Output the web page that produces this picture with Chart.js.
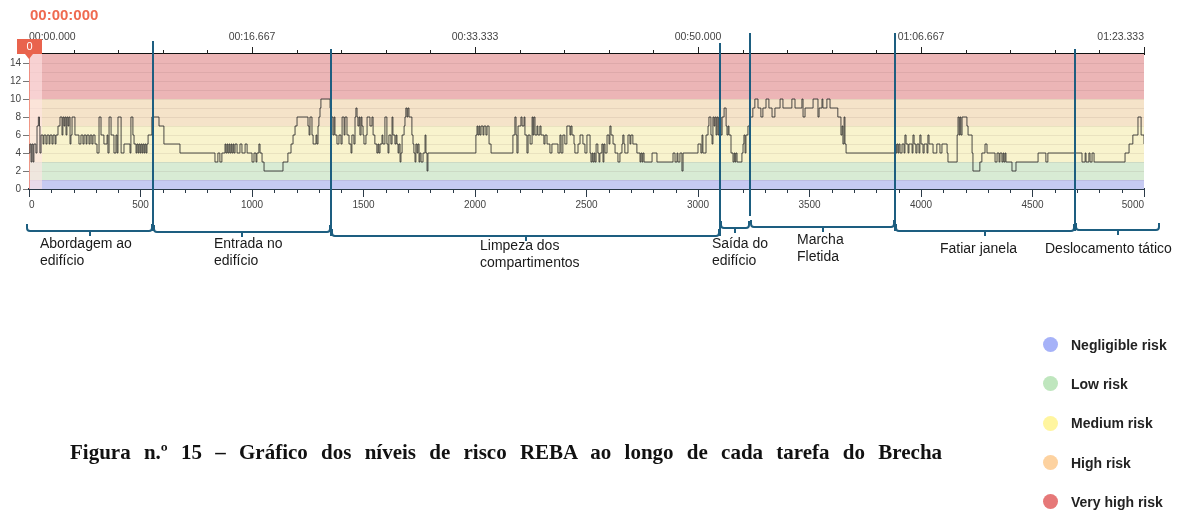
<!DOCTYPE html>
<html>
<head>
<meta charset="utf-8">
<script src="https://cdn.jsdelivr.net/npm/chart.js@4.4.1/dist/chart.umd.min.js"></script>
<style>
  html, body { margin: 0; padding: 0; background: #fff; }
  #wrap { position: relative; width: 1180px; height: 515px; font-family: 'Liberation Sans', Arial, sans-serif; }
  #chart { position: absolute; left: 0; top: 0; }
  .clock { position: absolute; left: 30px; top: 6px; color: #ef6a50; font-weight: bold; font-size: 15px; }
  .task { position: absolute; font-size: 14px; line-height: 17px; color: #1a1a1a; white-space: nowrap; }
  .legend { position: absolute; left: 1043px; top: 325px; }
  .legend div { height: 39.3px; display: flex; align-items: center; font-weight: bold; font-size: 14px; color: #222; }
  .legend span { width: 15px; height: 15px; border-radius: 50%; margin-right: 13px; }
  .caption { position: absolute; left: 70px; top: 440px; font-family: 'Liberation Serif', 'Times New Roman', serif; font-weight: bold; font-size: 21px; word-spacing: 8px; color: #111; white-space: nowrap; }
</style>
</head>
<body>
<div id="wrap">
  <canvas id="chart" width="1180" height="515"></canvas>
  <div class="clock">00:00:000</div>
  <div id="tasks"></div>
  <div class="legend" id="legend"></div>
  <div class="caption">Figura n.º 15 – Gráfico dos níveis de risco REBA ao longo de cada tarefa do Brecha</div>
</div>
<script>
// video frames (60 fps) and REBA score at each step change
const fps = 60;
const frames = [
  // Abordagem ao edificio
  0, 4, 9, 13, 18, 22, 31, 36, 42, 47,
  49, 54, 63, 67, 76, 81, 90, 94, 103, 108,
  117, 121, 130, 139, 148, 152, 157, 161, 166, 170,
  175, 179, 184, 188, 193, 206, 224, 233, 242, 247,
  256, 260, 269, 274, 282, 287, 296, 305, 314, 323,
  336, 350, 354, 359, 368, 381, 390, 395, 399, 413,
  426, 453, 457, 466, 471, 480, 484, 489, 493, 498,
  502, 507, 511, 516, 520, 525, 529, 534, 551,
  // Entrada no edificio
  583, 605, 677, 834, 847, 856, 865, 879, 883, 888,
  892, 897, 901, 906, 910, 915, 919, 924, 933, 946,
  955, 969, 978, 1000, 1009, 1018, 1022, 1031, 1036, 1045,
  1054, 1139, 1161, 1175, 1184, 1193, 1202, 1251, 1256, 1260,
  1269, 1274, 1287, 1291, 1296, 1300, 1305, 1309, 1350,
  // Limpeza dos compartimentos
  1354, 1363, 1368, 1372, 1381, 1390, 1399, 1404, 1413, 1417,
  1426, 1435, 1444, 1448, 1457, 1462, 1466, 1471, 1475, 1480,
  1484, 1489, 1493, 1498, 1502, 1511, 1516, 1529, 1538, 1543,
  1551, 1560, 1565, 1569, 1574, 1583, 1587, 1596, 1605, 1610,
  1614, 1623, 1628, 1632, 1641, 1646, 1650, 1655, 1659, 1664,
  1668, 1673, 1682, 1686, 1690, 1695, 1699, 1704, 1717, 1722,
  1726, 1731, 1735, 1740, 1744, 1749, 1753, 1758, 1767, 1776,
  1780, 1785, 1789, 2004, 2009, 2013, 2018, 2022, 2027, 2036,
  2040, 2049, 2054, 2063, 2072, 2170, 2179, 2184, 2188, 2193,
  2206, 2211, 2220, 2224, 2233, 2238, 2247, 2256, 2260, 2264,
  2269, 2278, 2282, 2291, 2296, 2309, 2314, 2323, 2336, 2345,
  2372, 2381, 2386, 2394, 2403, 2412, 2426, 2430, 2435, 2444,
  2448, 2462, 2471, 2484, 2493, 2502, 2516, 2520, 2525, 2529,
  2534, 2538, 2543, 2551, 2556, 2560, 2569, 2574, 2578, 2583,
  2592, 2601, 2605, 2610, 2619, 2628, 2641, 2650, 2659, 2663,
  2668, 2672, 2686, 2695, 2699, 2708, 2726, 2740, 2744, 2749,
  2753, 2758, 2794, 2816, 2888, 2897, 2906, 2910, 2919, 2928,
  2933, 3000, 3013, 3018, 3022, 3036, 3045, 3049, 3058, 3063,
  3067, 3072, 3076, 3081, 3085, 3090, 3094,
  // Saida do edificio
  3103, 3108, 3117, 3126, 3130, 3135, 3139, 3148, 3157, 3162,
  3166, 3170, 3175, 3197, 3202, 3206, 3211, 3215, 3224, 3233,
  // Marcha fletida
  3246, 3255, 3269, 3282, 3291, 3305, 3318, 3332, 3345, 3368,
  3381, 3421, 3435, 3466, 3471, 3480, 3516, 3538, 3543, 3556,
  3560, 3578, 3592, 3627, 3641, 3646, 3650, 3655, 3659, 3664,
  // Fatiar janela
  3883, 3888, 3892, 3897, 3901, 3906, 3915, 3924, 3928, 3933,
  3942, 3946, 3960, 3964, 3969, 3977, 3982, 3991, 3995, 4000,
  4009, 4014, 4027, 4031, 4036, 4054, 4071, 4085, 4094, 4117,
  4121, 4162, 4166, 4171, 4175, 4179, 4184, 4206, 4211, 4229,
  4233, 4264, 4273, 4287, 4296, 4332, 4341, 4350, 4354, 4363,
  4368, 4372, 4377, 4381, 4408, 4426, 4525, 4560, 4569,
  // Deslocamento tatico
  4722, 4736, 4740, 4753, 4758, 4767, 4776, 4915, 4933, 4950,
  4973, 4987, 5000
];
const scores = [
  4, 5, 3, 5, 3, 5, 4, 7, 8, 7,
  4, 6, 5, 6, 5, 6, 5, 6, 5, 6,
  5, 6, 7, 8, 6, 8, 7, 8, 6, 8,
  7, 8, 5, 6, 8, 6, 5, 6, 5, 6,
  5, 6, 5, 6, 5, 6, 5, 4, 8, 6,
  5, 6, 4, 8, 6, 4, 6, 4, 8, 4,
  5, 4, 8, 6, 5, 4, 5, 4, 5, 4,
  5, 4, 5, 4, 5, 4, 5, 6, 8,

  7, 5, 4, 3, 4, 3, 4, 5, 4, 5,
  4, 5, 4, 5, 4, 5, 4, 5, 4, 5,
  4, 5, 4, 3, 4, 3, 4, 5, 4, 3,
  2, 3, 4, 5, 6, 7, 8, 7, 6, 8,
  6, 5, 6, 5, 7, 8, 9, 10, 9,

  8, 6, 8, 6, 5, 6, 5, 8, 6, 8,
  6, 5, 4, 6, 5, 8, 9, 8, 7, 8,
  6, 8, 7, 6, 5, 6, 8, 7, 8, 6,
  5, 4, 5, 4, 5, 6, 5, 8, 5, 4,
  6, 5, 8, 6, 5, 6, 5, 4, 5, 3,
  4, 6, 7, 8, 9, 8, 9, 8, 6, 5,
  4, 3, 5, 4, 5, 3, 4, 3, 4, 6,
  4, 2, 4, 6, 7, 6, 7, 6, 7, 6,
  7, 6, 7, 5, 4, 6, 8, 6, 4, 7,
  8, 7, 8, 6, 4, 6, 5, 8, 6, 8,
  6, 7, 6, 7, 6, 5, 6, 5, 4, 5,
  4, 6, 4, 6, 5, 7, 6, 7, 6, 5,
  4, 5, 6, 5, 4, 6, 4, 3, 4, 3,
  4, 3, 5, 4, 3, 4, 5, 3, 5, 4,
  6, 5, 7, 6, 5, 4, 3, 4, 5, 6,
  5, 4, 6, 5, 6, 5, 4, 3, 4, 3,
  4, 3, 4, 3, 4, 3, 4, 3, 4, 2,
  4, 5, 4, 6, 4, 6, 7, 8, 6, 5,
  8, 7, 8, 6, 8, 6, 8,

  6, 8, 9, 7, 6, 7, 6, 4, 3, 4,
  3, 4, 3, 4, 5, 6, 4, 6, 7, 8,

  9, 10, 9, 8, 9, 10, 9, 8, 9, 10,
  9, 10, 9, 10, 8, 9, 10, 8, 9, 10,
  9, 10, 9, 8, 6, 7, 5, 8, 5, 4,

  5, 4, 5, 4, 5, 4, 5, 4, 6, 5,
  4, 5, 4, 6, 5, 4, 5, 4, 6, 5,
  4, 5, 4, 6, 5, 4, 5, 4, 5, 4,
  3, 6, 8, 6, 8, 6, 8, 7, 6, 4,
  2, 3, 4, 5, 4, 3, 4, 3, 4, 3,
  4, 3, 4, 3, 2, 3, 4, 3, 4,

  3, 4, 3, 4, 3, 4, 3, 4, 5, 6,
  8, 6, 5
];

// risk bands on the REBA scale
const bandLimits = [0, 1, 3, 7, 10, 15];
const bandNames = ['Negligible risk', 'Low risk', 'Medium risk', 'High risk', 'Very high risk'];
const bandFill = ['#c6caf2', '#d8ebd4', '#f8f3cd', '#f5e3c9', '#ecb5b6'];
const bandDot = ['#a6b2f8', '#bfe6be', '#fff59f', '#fdd2a0', '#e67878'];

// tasks: start/end frame of each bracket
const taskNames = ['Abordagem ao\nedifício', 'Entrada no\nedifício', 'Limpeza dos\ncompartimentos',
  'Saída do\nedifício', 'Marcha\nFletida', 'Fatiar janela', 'Deslocamento tático'];
const taskBounds = [-13, 556, 1354, 3099, 3233, 3883, 4691, 5072];

// drawing styles for the task annotations (pixels)
const bracketY = [231, 232, 236, 228, 227, 231, 230];
const lineTop = [41, 49, 43, 33, 33, 49];
const lineBottom = [231, 236, 236, 216, 231, 231];
const labelLeft = [40, 214, 480, 712, 797, 940, 1045];
const labelTop = [235, 235, 237, 235, 231, 240, 240];
const annotColor = '#1d5e80';
const cursorFrame = 0;

function fmtTime(frame) {
  const ms = Math.round(frame * 1000 / fps);
  const mm = Math.floor(ms / 60000);
  const ss = Math.floor(ms / 1000) % 60;
  const mmm = ms % 1000;
  return String(mm).padStart(2, '0') + ':' + String(ss).padStart(2, '0') + '.' + String(mmm).padStart(3, '0');
}

const bandsPlugin = {
  id: 'bands',
  beforeDatasetsDraw(chart) {
    const { ctx, chartArea: a } = chart;
    const x = chart.scales.x, y = chart.scales.y;
    ctx.save();
    for (let i = 0; i < bandFill.length; i++) {
      const top = y.getPixelForValue(bandLimits[i + 1]);
      const bot = y.getPixelForValue(bandLimits[i]);
      ctx.fillStyle = bandFill[i];
      ctx.fillRect(a.left, top, a.right - a.left, bot - top);
    }
    // one faint line per score unit
    ctx.strokeStyle = 'rgba(90,60,60,0.09)';
    ctx.lineWidth = 1;
    for (let v = 1; v < 15; v++) {
      const py = Math.round(y.getPixelForValue(v)) + 0.5;
      ctx.beginPath(); ctx.moveTo(a.left, py); ctx.lineTo(a.right, py); ctx.stroke();
    }
    // playback cursor highlight
    const cx = x.getPixelForValue(cursorFrame);
    ctx.fillStyle = 'rgba(255,228,228,0.6)';
    ctx.fillRect(cx, a.top, 13, a.bottom - a.top);
    ctx.strokeStyle = 'rgba(233,99,77,0.6)';
    ctx.beginPath(); ctx.moveTo(cx + 0.5, a.top); ctx.lineTo(cx + 0.5, a.bottom); ctx.stroke();
    ctx.restore();
  }
};

const overlayPlugin = {
  id: 'overlay',
  afterDraw(chart) {
    const { ctx } = chart;
    const x = chart.scales.x, xt = chart.scales.xTop;
    ctx.save();
    // minor ticks
    ctx.lineWidth = 1;
    ctx.strokeStyle = '#2b3a48';
    for (let f = 100; f < 5000; f += 100) {
      if (f % 500 === 0) continue;
      const px = Math.round(x.getPixelForValue(f)) + 0.5;
      ctx.beginPath(); ctx.moveTo(px, x.top); ctx.lineTo(px, x.top + 4); ctx.stroke();
    }
    ctx.strokeStyle = '#222';
    for (let f = 200; f < 5000; f += 200) {
      if (f % 1000 === 0) continue;
      const px = Math.round(xt.getPixelForValue(f)) + 0.5;
      ctx.beginPath(); ctx.moveTo(px, xt.bottom); ctx.lineTo(px, xt.bottom - 4); ctx.stroke();
    }

    // task separators
    ctx.strokeStyle = annotColor;
    ctx.lineWidth = 2;
    for (let i = 1; i < taskBounds.length - 1; i++) {
      const px = Math.round(x.getPixelForValue(taskBounds[i]));
      ctx.beginPath(); ctx.moveTo(px, lineTop[i - 1]); ctx.lineTo(px, lineBottom[i - 1]); ctx.stroke();
    }
    // brackets
    for (let i = 0; i < taskNames.length; i++) {
      const l = Math.round(x.getPixelForValue(taskBounds[i])) + 1;
      const r = Math.round(x.getPixelForValue(taskBounds[i + 1])) - 1;
      const by = bracketY[i];
      ctx.beginPath();
      ctx.moveTo(l, by - 7);
      ctx.arcTo(l, by, l + 3, by, 3);
      ctx.lineTo(r - 3, by);
      ctx.arcTo(r, by, r, by - 7, 3);
      ctx.lineTo(r, by - 7);
      ctx.stroke();
      const mid = Math.round((l + r) / 2);
      ctx.beginPath(); ctx.moveTo(mid, by); ctx.lineTo(mid, by + 5); ctx.stroke();
    }

    // cursor badge
    const cx = x.getPixelForValue(cursorFrame);
    ctx.fillStyle = '#e9634d';
    ctx.fillRect(cx - 12, 39, 25, 15);
    ctx.beginPath(); ctx.moveTo(cx - 4, 54); ctx.lineTo(cx + 4, 54); ctx.lineTo(cx, 59); ctx.closePath(); ctx.fill();
    ctx.fillStyle = '#fff';
    ctx.font = '11px "Liberation Sans", Arial, sans-serif';
    ctx.textAlign = 'center'; ctx.textBaseline = 'middle';
    ctx.fillText(String(cursorFrame), cx + 0.5, 46.5);
    ctx.restore();
  }
};

new Chart(document.getElementById('chart'), {
  type: 'line',
  data: {
    datasets: [{
      label: 'REBA',
      data: frames.map((f, i) => ({ x: f, y: scores[i] })),
      stepped: true,
      borderColor: 'rgba(45,45,45,0.85)',
      borderWidth: 1,
      pointRadius: 0,
      fill: false
    }]
  },
  options: {
    responsive: false,
    animation: false,
    layout: { padding: { top: 0, left: 0, right: 36, bottom: 300 } },
    plugins: { legend: { display: false }, tooltip: { enabled: false } },
    scales: {
      x: {
        type: 'linear', position: 'bottom', min: 0, max: 5000,
        afterFit: s => { s.height = 26; },
        ticks: { stepSize: 500, align: 'inner', maxRotation: 0, autoSkip: false, color: '#444',
          font: { size: 10, family: '"Liberation Sans", Arial, sans-serif' }, padding: 2,
          callback: v => String(v) },
        grid: { drawOnChartArea: false, tickLength: 8, tickColor: '#2b3a48' },
        border: { color: '#2b3a48', width: 2 }
      },
      xTop: {
        axis: 'x', type: 'linear', position: 'top', min: 0, max: 5000,
        afterFit: s => { s.height = 54; },
        ticks: { stepSize: 1000, align: 'inner', maxRotation: 0, autoSkip: false, color: '#444',
          font: { size: 10.5, family: '"Liberation Sans", Arial, sans-serif' }, padding: 4,
          callback: v => fmtTime(v) },
        grid: { drawOnChartArea: false, tickLength: 7, tickColor: '#222' },
        border: { color: '#111', width: 2 }
      },
      y: {
        min: 0, max: 15,
        afterFit: s => { s.width = 29; },
        ticks: { stepSize: 2, includeBounds: false, color: '#444',
          font: { size: 10, family: '"Liberation Sans", Arial, sans-serif' }, padding: 2 },
        grid: { drawOnChartArea: false, tickLength: 6, tickColor: '#777' },
        border: { display: false }
      }
    }
  },
  plugins: [bandsPlugin, overlayPlugin]
});

// task labels under the brackets
const tasksEl = document.getElementById('tasks');
taskNames.forEach((name, i) => {
  const d = document.createElement('div');
  d.className = 'task';
  d.style.left = labelLeft[i] + 'px';
  d.style.top = labelTop[i] + 'px';
  d.innerHTML = name.split('\n').join('<br>');
  tasksEl.appendChild(d);
});

// risk legend
const legendEl = document.getElementById('legend');
bandNames.forEach((name, i) => {
  const row = document.createElement('div');
  const dot = document.createElement('span');
  dot.style.background = bandDot[i];
  row.appendChild(dot);
  row.appendChild(document.createTextNode(name));
  legendEl.appendChild(row);
});
</script>
</body>
</html>
